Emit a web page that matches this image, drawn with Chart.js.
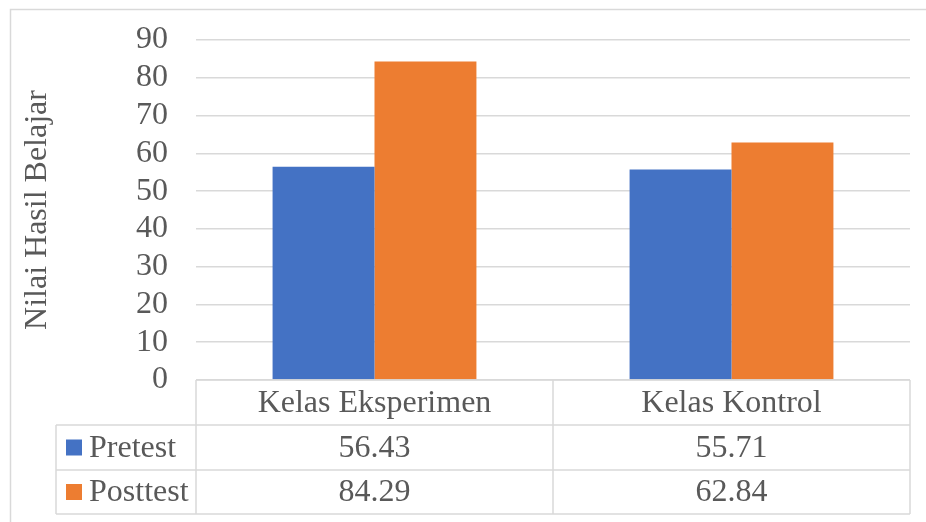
<!DOCTYPE html>
<html>
<head>
    <meta charset="UTF-8">
    <title>Nilai Hasil Belajar</title>
    <script src="https://cdn.jsdelivr.net/npm/chart.js@4"></script>
    <style>
        html, body { margin: 0; padding: 0; background: #fff; }
        #wrap { width: 926px; height: 522px; }
    </style>
</head>
<body>
<div id="wrap"><canvas id="nilaiChart"></canvas></div>

<script>
    // data
    var categories = ['Kelas Eksperimen', 'Kelas Kontrol'];
    var seriesNames = ['Pretest', 'Posttest'];
    var pretest = [56.43, 55.71];
    var posttest = [84.29, 62.84];
    var seriesColors = ['#4472C4', '#ED7D31'];

    var FONT = '"Liberation Serif", "Times New Roman", serif';
    var TEXT = '#595959';
    var LINE = '#d9d9d9';
    var SIZE = 32;

    // border + data table under the plot
    var tablePlugin = {
        id: 'dataTable',
        beforeDraw: function (chart) {
            var c = chart.ctx;
            c.save();
            c.fillStyle = '#fff';
            c.fillRect(0, 0, chart.width, chart.height);
            c.strokeStyle = LINE;
            c.lineWidth = 1.5;
            c.beginPath();
            c.moveTo(10.5, chart.height + 2);
            c.lineTo(10.5, 9.5);
            c.lineTo(chart.width + 2, 9.5);
            c.stroke();
            c.restore();
        },
        afterDraw: function (chart) {
            var c = chart.ctx;
            var x = chart.scales.x;
            var area = chart.chartArea;
            var half = (x.right - x.left) / categories.length / 2;
            var top = area.bottom;
            var rows = [top, top + 45, top + 90, top + 134];
            var leftCol = 56;
            var seriesVals = [pretest, posttest];

            c.save();
            c.strokeStyle = LINE;
            c.lineWidth = 1.5;
            c.beginPath();
            // horizontal lines
            c.moveTo(area.left, rows[0]); c.lineTo(area.right, rows[0]);
            for (var r = 1; r < rows.length; r++) {
                c.moveTo(leftCol, rows[r]); c.lineTo(area.right, rows[r]);
            }
            // vertical lines
            c.moveTo(leftCol, rows[1]); c.lineTo(leftCol, rows[3]);
            c.moveTo(area.left, rows[0]); c.lineTo(area.left, rows[3]);
            for (var i = 0; i < categories.length; i++) {
                var xr = x.getPixelForValue(i) + half;
                c.moveTo(xr, rows[0]); c.lineTo(xr, rows[3]);
            }
            c.stroke();

            c.fillStyle = TEXT;
            c.font = SIZE + 'px ' + FONT;
            c.textAlign = 'center';
            c.textBaseline = 'middle';
            for (var i = 0; i < categories.length; i++) {
                var cx = x.getPixelForValue(i);
                c.fillText(categories[i], cx, (rows[0] + rows[1]) / 2 + 1);
                for (var s = 0; s < seriesVals.length; s++) {
                    c.fillText(seriesVals[s][i].toFixed(2), cx, (rows[s + 1] + rows[s + 2]) / 2 + 1);
                }
            }
            // legend keys
            c.textAlign = 'left';
            for (var s = 0; s < seriesNames.length; s++) {
                var cy = (rows[s + 1] + rows[s + 2]) / 2;
                c.fillStyle = seriesColors[s];
                c.fillRect(66, cy - 8, 16, 16);
                c.fillStyle = TEXT;
                c.fillText(seriesNames[s], 89, cy + 1);
            }
            c.restore();
        }
    };

    var ctx = document.getElementById('nilaiChart').getContext('2d');
    var chart = new Chart(ctx, {
        type: 'bar',
        data: {
            labels: categories,
            datasets: [
                { label: seriesNames[0], data: pretest, backgroundColor: seriesColors[0] },
                { label: seriesNames[1], data: posttest, backgroundColor: seriesColors[1] }
            ]
        },
        options: {
            responsive: true,
            maintainAspectRatio: false,
            animation: false,
            layout: { padding: { left: 10, top: 40, right: 16, bottom: 142 } },
            datasets: { bar: { categoryPercentage: 0.571, barPercentage: 1 } },
            plugins: { legend: { display: false }, tooltip: { enabled: false } },
            scales: {
                x: { display: false },
                y: {
                    min: 0,
                    max: 90,
                    ticks: { stepSize: 10, autoSkip: false, color: TEXT, padding: 28, font: { family: FONT, size: SIZE } },
                    grid: { color: LINE, lineWidth: 1.5, drawTicks: false },
                    border: { display: false },
                    title: {
                        display: true,
                        text: 'Nilai Hasil Belajar',
                        color: TEXT,
                        font: { family: FONT, size: SIZE },
                        padding: { top: 8, bottom: 0 }
                    },
                    afterFit: function (scale) {
                        scale.width = 186;
                        scale.paddingTop = 0;
                        scale.paddingBottom = 0;
                    }
                }
            }
        },
        plugins: [tablePlugin]
    });
</script>
</body>
</html>
